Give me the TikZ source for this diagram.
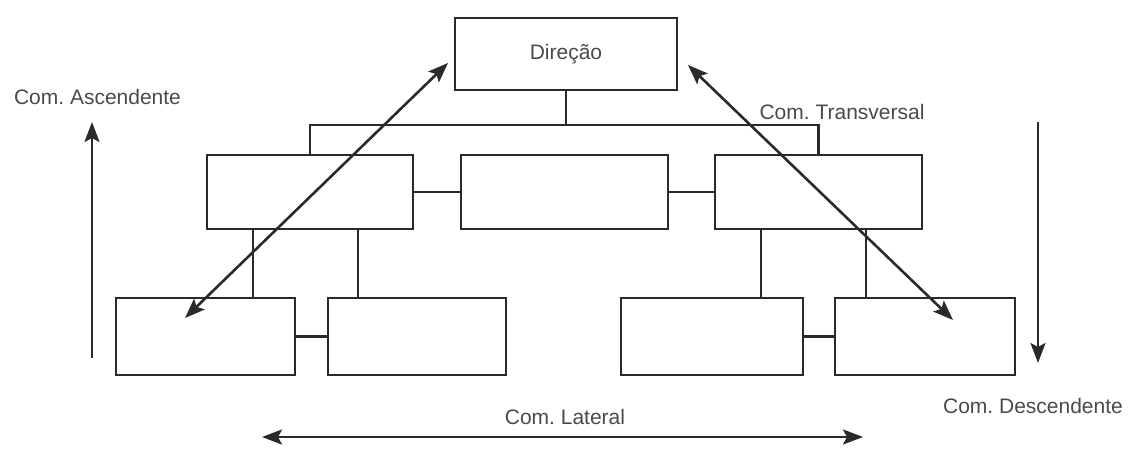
\documentclass[tikz,border=0pt]{standalone}
\usepackage{fontspec}
\setmainfont{Liberation Sans}
\usetikzlibrary{arrows.meta}
\definecolor{linec}{HTML}{2A2A2A}
\definecolor{textc}{HTML}{4A4A4A}
\frenchspacing
\begin{document}
\begin{tikzpicture}[x=1pt,y=-1pt,
  box/.style={draw=linec,line width=2.2pt,rectangle,inner sep=0pt,minimum height=74pt,font=\fontsize{21}{25}\selectfont,text=textc},
  conn/.style={draw=linec,line width=2.2pt},
  arr/.style={draw=linec,line width=2.6pt,-{Stealth[length=20pt,width=15pt,inset=4pt]}},
  darr/.style={draw=linec,line width=2.6pt,{Stealth[length=20pt,width=15pt,inset=4pt]}-{Stealth[length=20pt,width=15pt,inset=4pt]}},
  lbl/.style={text=textc,font=\fontsize{21}{25}\selectfont,inner sep=0pt}]
\useasboundingbox (0,0) rectangle (1133,448);
% boxes
\node[box,minimum width=222pt,minimum height=72pt] (dir) at (566,54) {Direção};
\node[box,minimum width=206pt] (l2) at (310,192) {};
\node[box,minimum width=207pt] (m2) at (564.5,192) {};
\node[box,minimum width=207pt] (r2) at (818.5,192) {};
\node[box,minimum width=179pt,minimum height=77pt] (a3) at (205.5,336.5) {};
\node[box,minimum width=178pt,minimum height=77pt] (b3) at (417,336.5) {};
\node[box,minimum width=182pt,minimum height=77pt] (c3) at (712,336.5) {};
\node[box,minimum width=180pt,minimum height=77pt] (d3) at (925,336.5) {};
% tree connectors
\coordinate (bus) at (0,125);
\draw[conn] (dir.south) -- (dir.south |- bus);
\draw[conn] (l2.north) -- (l2.north |- bus) -- (r2.north |- bus) -- (r2.north);
\draw[conn] (l2.east) -- (m2.west);
\draw[conn] (m2.east) -- (r2.west);
\draw[conn] (a3.east) -- (b3.west);
\draw[conn] (c3.east) -- (d3.west);
\coordinate (x1) at (253,0);
\coordinate (x2) at (358,0);
\coordinate (x3) at (761,0);
\coordinate (x4) at (866,0);
\draw[conn] (l2.south -| x1) -- (a3.north -| x1);
\draw[conn] (l2.south -| x2) -- (b3.north -| x2);
\draw[conn] (r2.south -| x3) -- (c3.north -| x3);
\draw[conn] (r2.south -| x4) -- (d3.north -| x4);
% diagonal arrows
\coordinate (tl) at (448,63);
\coordinate (bl) at (185,318);
\coordinate (tr) at (688,65);
\coordinate (br) at (953,320);
\draw[darr] (bl) -- (tl);
\draw[darr] (br) -- (tr);
% side arrows
\coordinate (asc0) at (92,358);
\coordinate (asc1) at (92,122);
\draw[arr] (asc0) -- (asc1);
\coordinate (des0) at (1038,122);
\coordinate (des1) at (1038,363);
\draw[arr] (des0) -- (des1);
\coordinate (lat0) at (262,437);
\coordinate (lat1) at (863,437);
\draw[darr] (lat0) -- (lat1);
% labels
\node[lbl] (lasc) at (97.5,97) {Com. Ascendente};
\node[lbl] (ltra) at (842,112) {Com. Transversal};
\node[lbl] (ldes) at (1033,406) {Com. Descendente};
\node[lbl] (llat) at (565,417) {Com. Lateral};
\end{tikzpicture}
\end{document}
